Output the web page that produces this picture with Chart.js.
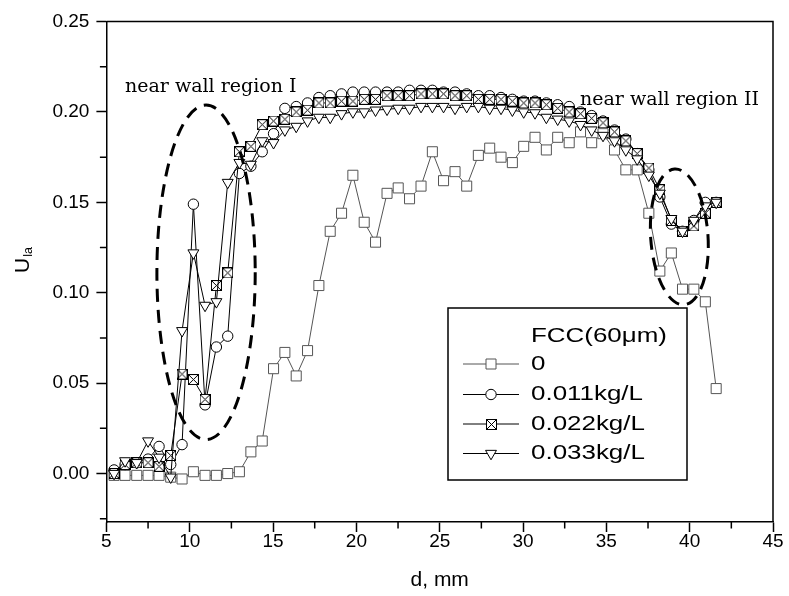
<!DOCTYPE html>
<html><head><meta charset="utf-8">
<script src="https://cdn.jsdelivr.net/npm/chart.js@4.4.1/dist/chart.umd.min.js"></script>
<style>html,body{margin:0;padding:0;background:#fff;}#wrap{width:789px;height:596px;position:relative;}</style>
</head><body><div id="wrap"><canvas id="c" width="789" height="596"></canvas></div>
<script>
// ---- data ----
const dPositions = [5.46, 6.12, 6.82, 7.5, 8.16, 8.86, 9.54, 10.22, 10.92, 11.6, 12.28, 12.98, 13.67, 14.35, 15.03, 15.71, 16.39, 17.07, 17.75, 18.43, 19.11, 19.79, 20.47, 21.15, 21.84, 22.51, 23.19, 23.88, 24.56, 25.23, 25.92, 26.62, 27.32, 28.0, 28.68, 29.36, 30.04, 30.72, 31.4, 32.08, 32.77, 33.45, 34.12, 34.8, 35.49, 36.17, 36.85, 37.55, 38.21, 38.9, 39.57, 40.25, 40.94, 41.59];
const u0   = [-0.001,-0.001,-0.001,-0.001,-0.001,-0.002,-0.003,0.001,-0.001,-0.001,0.000,0.001,0.012,0.018,0.058,0.067,0.054,0.068,0.104,0.134,0.144,0.165,0.139,0.128,0.155,0.158,0.152,0.159,0.178,0.162,0.167,0.159,0.176,0.180,0.175,0.172,0.181,0.186,0.179,0.186,0.183,0.189,0.183,0.188,0.179,0.168,0.168,0.144,0.112,0.122,0.102,0.102,0.095,0.047];
const u011 = [0.002,0.005,0.006,0.008,0.015,0.005,0.016,0.149,0.038,0.070,0.076,0.166,0.170,0.178,0.188,0.202,0.203,0.205,0.208,0.209,0.210,0.211,0.211,0.211,0.211,0.211,0.212,0.212,0.212,0.211,0.211,0.210,0.209,0.209,0.208,0.207,0.206,0.206,0.205,0.204,0.203,0.200,0.198,0.195,0.190,0.185,0.177,0.168,0.153,0.138,0.134,0.140,0.150,0.150];
const u022 = [0.000,0.005,0.006,0.006,0.004,0.010,0.055,0.052,0.041,0.104,0.111,0.178,0.181,0.193,0.195,0.196,0.200,0.201,0.205,0.205,0.206,0.206,0.207,0.207,0.209,0.209,0.209,0.210,0.210,0.210,0.209,0.209,0.207,0.207,0.207,0.206,0.205,0.205,0.204,0.202,0.200,0.199,0.1965,0.194,0.189,0.184,0.177,0.169,0.157,0.140,0.134,0.137,0.144,0.150];
const u033 = [0.000,0.007,0.006,0.018,0.009,-0.002,0.079,0.122,0.093,0.095,0.161,0.172,0.171,0.184,0.183,0.190,0.192,0.195,0.197,0.197,0.199,0.200,0.200,0.201,0.2015,0.202,0.202,0.203,0.203,0.203,0.202,0.203,0.203,0.202,0.202,0.201,0.200,0.1995,0.197,0.196,0.195,0.193,0.190,0.187,0.184,0.179,0.174,0.165,0.155,0.141,0.134,0.140,0.148,0.150];
const seriesLabels = ['0', '0.011kg/L', '0.022kg/L', '0.033kg/L'];
const legendTitle = 'FCC(60\u03bcm)';
const xTicks = [5, 10, 15, 20, 25, 30, 35, 40, 45];
const yTicks = [0.00, 0.05, 0.10, 0.15, 0.20, 0.25];
const xMinorTicks = [7.5, 12.5, 17.5, 22.5, 27.5, 32.5, 37.5, 42.5];
const yMinorTicks = [-0.025, 0.025, 0.075, 0.125, 0.175, 0.225];
const xTitle = 'd, mm';
const yTitleMain = 'U';
const yTitleSub = 'la';
const region1Label = 'near wall region I';
const region2Label = 'near wall region II';

// ---- styling ----
const SANS = '"Liberation Sans", Arial, sans-serif';
const SERIF = '"DejaVu Serif", serif';
const GRAY = '#555';

function makeXSquare(size){
  const c = document.createElement('canvas');
  c.width = size; c.height = size;
  const g = c.getContext('2d');
  g.fillStyle = '#fff'; g.fillRect(0, 0, size, size);
  g.strokeStyle = '#000'; g.lineWidth = 1;
  g.strokeRect(0.5, 0.5, size - 1, size - 1);
  g.beginPath();
  g.moveTo(1, 1); g.lineTo(size - 1, size - 1);
  g.moveTo(size - 1, 1); g.lineTo(1, size - 1);
  g.stroke();
  return c;
}
const xSquare = makeXSquare(11);

function pts(arr){ return dPositions.map((d, i) => ({x: d, y: arr[i]})); }

function drawMarker(ctx, kind, x, y){
  ctx.save();
  ctx.lineWidth = 1;
  ctx.fillStyle = '#fff';
  if (kind === 0){
    ctx.strokeStyle = GRAY;
    ctx.beginPath(); ctx.rect(x - 5, y - 5, 10, 10); ctx.fill(); ctx.stroke();
  } else if (kind === 1){
    ctx.strokeStyle = '#000';
    ctx.beginPath(); ctx.arc(x, y, 5.2, 0, Math.PI * 2); ctx.fill(); ctx.stroke();
  } else if (kind === 2){
    ctx.drawImage(xSquare, Math.round(x - 5.5), Math.round(y - 5.5));
  } else {
    const r = 6.3;
    ctx.strokeStyle = '#000';
    ctx.beginPath();
    ctx.moveTo(x - r * 0.866, y - r / 2);
    ctx.lineTo(x + r * 0.866, y - r / 2);
    ctx.lineTo(x, y + r);
    ctx.closePath(); ctx.fill(); ctx.stroke();
  }
  ctx.restore();
}

// text drawn with a horizontal stretch (reference legend font is wide)
function wideText(ctx, txt, x, y, sx){
  ctx.save();
  ctx.translate(x, y);
  ctx.scale(sx, 1);
  ctx.fillText(txt, 0, 0);
  ctx.restore();
}

const extras = {
  id: 'extras',
  afterDatasetsDraw(chart){
    const ctx = chart.ctx, xs = chart.scales.x, ys = chart.scales.y;
    ctx.save();
    ctx.strokeStyle = '#000';
    ctx.lineWidth = 3;
    ctx.setLineDash([13, 8]);
    const ell = (cd, cu, rd, ru, rot) => {
      const cx = xs.getPixelForValue(cd), cy = ys.getPixelForValue(cu);
      const rx = Math.abs(xs.getPixelForValue(cd + rd) - cx);
      const ry = Math.abs(ys.getPixelForValue(cu + ru) - cy);
      ctx.beginPath(); ctx.ellipse(cx, cy, rx, ry, rot, 0, Math.PI * 2); ctx.stroke();
    };
    ell(10.98, 0.1113, 2.95, 0.0925, 0);
    ell(39.38, 0.1309, 1.72, 0.0376, -0.07);
    ctx.restore();
  },
  afterDraw(chart){
    const ctx = chart.ctx, xs = chart.scales.x, ys = chart.scales.y, a = chart.chartArea;
    ctx.save();
    ctx.strokeStyle = '#000'; ctx.lineWidth = 1.5;
    ctx.beginPath();
    ctx.moveTo(a.left, a.top); ctx.lineTo(a.right, a.top); ctx.lineTo(a.right, a.bottom);
    ctx.stroke();
    ctx.lineWidth = 1.5;
    ctx.beginPath();
    xMinorTicks.forEach(v => { const px = xs.getPixelForValue(v); ctx.moveTo(px, a.bottom); ctx.lineTo(px, a.bottom + 6.5); });
    yMinorTicks.forEach(v => { const py = ys.getPixelForValue(v); ctx.moveTo(a.left, py); ctx.lineTo(a.left - 6.5, py); });
    ctx.stroke();
    ctx.fillStyle = '#000';
    ctx.font = '21px ' + SANS;
    ctx.textAlign = 'center'; ctx.textBaseline = 'middle';
    ctx.fillText(xTitle, (a.left + a.right) / 2, 580);
    ctx.save();
    ctx.translate(28.5, 273);
    ctx.rotate(-Math.PI / 2);
    ctx.textAlign = 'left'; ctx.textBaseline = 'alphabetic';
    ctx.font = '21px ' + SANS;
    ctx.fillText(yTitleMain, 0, 0);
    const w = ctx.measureText(yTitleMain).width;
    ctx.font = '12.5px ' + SANS;
    ctx.fillText(yTitleSub, w + 1, 3.5);
    ctx.restore();
    ctx.font = '19px ' + SERIF;
    ctx.textAlign = 'left'; ctx.textBaseline = 'alphabetic';
    ctx.fillText(region1Label, 125, 92);
    ctx.fillText(region2Label, 580, 105);
    // legend
    const L = 448, T = 308, R = 687, B = 480;
    ctx.fillStyle = '#fff';
    ctx.fillRect(L, T, R - L, B - T);
    ctx.strokeStyle = '#000'; ctx.lineWidth = 1.5;
    ctx.strokeRect(L, T, R - L, B - T);
    ctx.fillStyle = '#000';
    ctx.font = '21px ' + SANS;
    ctx.textBaseline = 'middle';
    const sx = 112 / ctx.measureText(seriesLabels[1]).width;
    wideText(ctx, legendTitle, 531, 336, sx);
    const rows = [364, 394.5, 424, 453.5];
    rows.forEach((ry, i) => {
      ctx.strokeStyle = i === 0 ? GRAY : '#000';
      ctx.lineWidth = 1;
      ctx.beginPath(); ctx.moveTo(463, ry); ctx.lineTo(519, ry); ctx.stroke();
      drawMarker(ctx, i, 491, ry);
      ctx.fillStyle = '#000';
      wideText(ctx, seriesLabels[i], 531, ry, sx);
    });
    ctx.restore();
  }
};

const common = {borderWidth: 1, tension: 0, pointBorderWidth: 1, pointBackgroundColor: '#fff', fill: false};
new Chart(document.getElementById('c').getContext('2d'), {
  type: 'line',
  data: {datasets: [
    Object.assign({}, common, {label: seriesLabels[0], data: pts(u0), borderColor: GRAY, pointBorderColor: GRAY, pointStyle: 'rect', pointRadius: 7.1, order: 4}),
    Object.assign({}, common, {label: seriesLabels[1], data: pts(u011), borderColor: '#000', pointBorderColor: '#000', pointStyle: 'circle', pointRadius: 5.2, order: 3}),
    Object.assign({}, common, {label: seriesLabels[2], data: pts(u022), borderColor: '#000', pointBorderColor: '#000', pointStyle: xSquare, pointRadius: 6, order: 2}),
    Object.assign({}, common, {label: seriesLabels[3], data: pts(u033), borderColor: '#000', pointBorderColor: '#000', pointStyle: 'triangle', pointRotation: 180, pointRadius: 6.3, order: 1})
  ]},
  options: {
    responsive: false, animation: false, events: [],
    plugins: {legend: {display: false}, tooltip: {enabled: false}},
    layout: {padding: {left: 0, top: 21.6, right: 16, bottom: 0}},
    scales: {
      x: {
        type: 'linear', min: 5, max: 45,
        afterBuildTicks: s => { s.ticks = xTicks.map(v => ({value: v})); },
        afterFit: s => { s.height = 74; },
        grid: {drawOnChartArea: false, drawTicks: true, tickLength: 10, tickWidth: 1.5, tickColor: '#000'},
        border: {display: true, color: '#000', width: 1.5},
        ticks: {color: '#000', font: {family: SANS, size: 19}, padding: -2, maxRotation: 0, autoSkip: false}
      },
      y: {
        type: 'linear', min: -0.0268, max: 0.25,
        afterBuildTicks: s => { s.ticks = yTicks.map(v => ({value: v})); },
        afterFit: s => { s.width = 106.4; },
        grid: {drawOnChartArea: false, drawTicks: true, tickLength: 10, tickWidth: 1.5, tickColor: '#000'},
        border: {display: true, color: '#000', width: 1.5},
        ticks: {color: '#000', font: {family: SANS, size: 19}, padding: 7, autoSkip: false, callback: v => Number(v).toFixed(2)}
      }
    }
  },
  plugins: [extras]
});
</script></body></html>
